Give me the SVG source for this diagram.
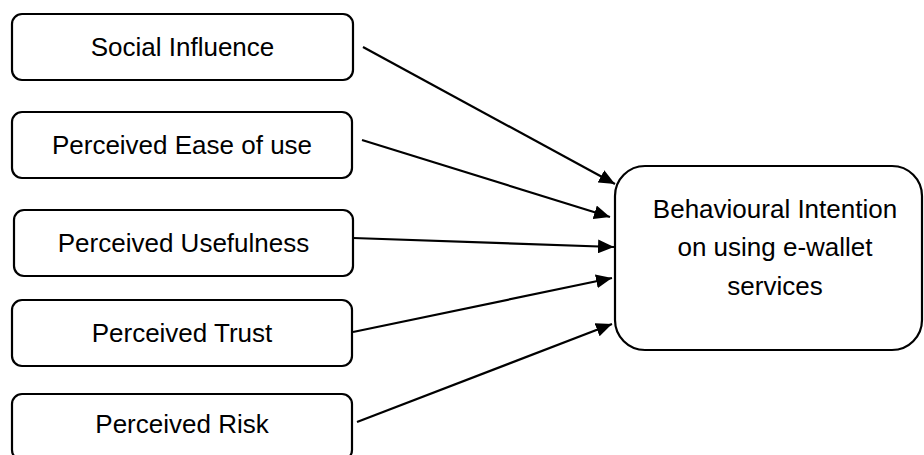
<svg xmlns="http://www.w3.org/2000/svg" width="924" height="455" viewBox="0 0 924 455">
<style>
.box{fill:#fff;stroke:#000;stroke-width:2.2}
.t{font-family:"Liberation Sans",Arial,sans-serif;font-size:26px;fill:#000;text-anchor:middle}
.c{stroke:#000;stroke-width:2.2;fill:none}
</style>
<defs>
<marker id="ah" markerUnits="userSpaceOnUse" markerWidth="16" markerHeight="14" refX="16" refY="7" orient="auto">
<path d="M0,0 L16,7 L0,14 Z" fill="#000"/>
</marker>
</defs>
<rect width="924" height="455" fill="#fff"/>
<g id="social-influence">
<rect class="box" x="12" y="14" width="341" height="66" rx="10"/>
<text class="t" x="182.5" y="56">Social Influence</text>
</g>
<g id="perceived-ease">
<rect class="box" x="12" y="112" width="340" height="66" rx="10"/>
<text class="t" x="182" y="154">Perceived Ease of use</text>
</g>
<g id="perceived-usefulness">
<rect class="box" x="14" y="210" width="339" height="66" rx="10"/>
<text class="t" x="183.5" y="252">Perceived Usefulness</text>
</g>
<g id="perceived-trust">
<rect class="box" x="12" y="300" width="340" height="66" rx="10"/>
<text class="t" x="182" y="342">Perceived Trust</text>
</g>
<g id="perceived-risk">
<rect class="box" x="12" y="394" width="340" height="66" rx="10"/>
<text class="t" x="182" y="433">Perceived Risk</text>
</g>
<g id="behavioural-intention">
<rect class="box" x="615" y="166" width="307" height="184" rx="30"/>
<text class="t" x="775" y="218">Behavioural Intention</text>
<text class="t" x="775" y="256">on using e-wallet</text>
<text class="t" x="775" y="295">services</text>
</g>
<g id="connectors">
<line class="c" x1="363" y1="47" x2="615" y2="184" marker-end="url(#ah)"/>
<line class="c" x1="362" y1="140" x2="610" y2="217" marker-end="url(#ah)"/>
<line class="c" x1="353" y1="238" x2="614" y2="247" marker-end="url(#ah)"/>
<line class="c" x1="353" y1="332" x2="612" y2="278" marker-end="url(#ah)"/>
<line class="c" x1="357" y1="422" x2="612" y2="324" marker-end="url(#ah)"/>
</g>
</svg>
